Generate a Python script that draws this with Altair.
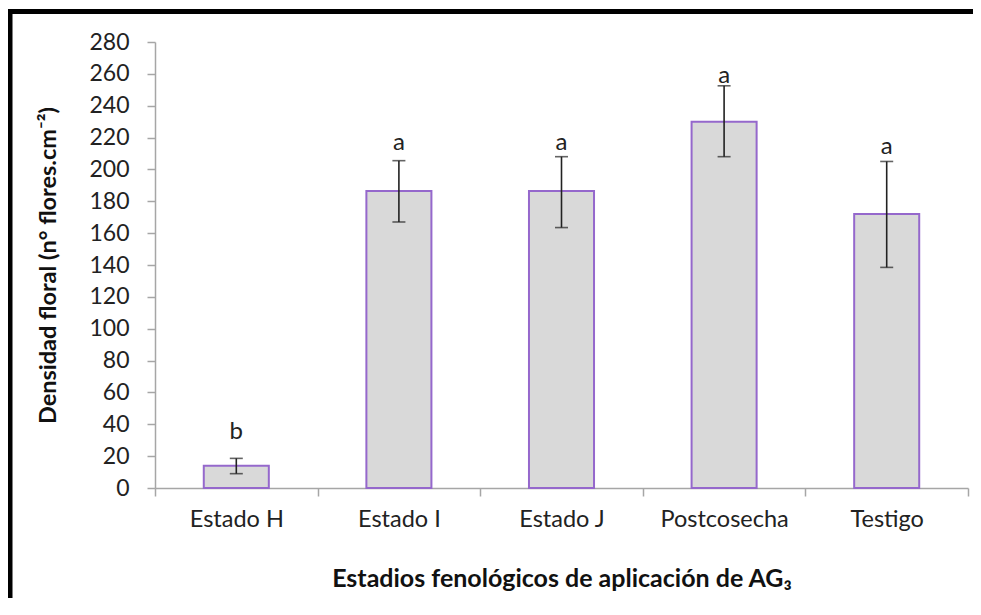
import altair as alt
import pandas as pd

categories = ["Estado H", "Estado I", "Estado J", "Postcosecha", "Testigo"]
means = [14, 186.5, 186.5, 230, 172]
err_low = [9, 167, 163.5, 208, 138.5]
err_high = [18.6, 205.5, 208, 252.5, 205]
letters = ["b", "a", "a", "a", "a"]
letter_pos = [31, 212, 212, 254, 210]
y_ticks = list(range(0, 281, 20))

df = pd.DataFrame({
    "cat": categories,
    "mean": means,
    "lo": err_low,
    "hi": err_high,
    "letter": letters,
    "lpos": letter_pos,
})

FONT = "Lato"
W, H = 813, 446
PAD_R = 5

x_axis = alt.Axis(
    title="Estadios fenológicos de aplicación de AG₃",
    labelAngle=0,
    tickBand="extent",
    tickSize=8,
    labelPadding=11,
    titlePadding=36,
    domainColor="#a6a6a6",
    tickColor="#a6a6a6",
    domainWidth=1.5,
    tickWidth=1.5,
    labelFont=FONT,
    labelFontSize=23.5,
    labelColor="#222222",
    titleFont=FONT,
    titleFontSize=25,
    titleFontWeight="bold",
    titleColor="#111111",
)
x_scale = alt.Scale(paddingInner=0, paddingOuter=0)

y_scale = alt.Scale(domain=[0, 280], nice=False)
y_axis = alt.Axis(
    title="Densidad floral (n° flores.cm⁻²)",
    values=y_ticks,
    labelOverlap=False,
    grid=False,
    tickSize=8,
    labelPadding=18,
    titlePadding=28,
    domainColor="#a6a6a6",
    tickColor="#a6a6a6",
    domainWidth=1.5,
    tickWidth=1.5,
    labelFont=FONT,
    labelFontSize=23,
    labelColor="#222222",
    titleFont=FONT,
    titleFontSize=23.5,
    titleFontWeight="bold",
    titleColor="#111111",
)


def X():
    return alt.X("cat:N", sort=categories, scale=x_scale, axis=x_axis)


def Y(field):
    return alt.Y(field, type="quantitative", scale=y_scale, axis=y_axis)


base = alt.Chart(df)

bars = base.mark_bar(
    width=alt.RelativeBandSize(0.4),
    fill="#d9d9d9",
    stroke="#9568cc",
    strokeWidth=2,
).encode(x=X(), y=Y("mean"))

err = base.mark_rule(color="#222222", strokeWidth=1.6).encode(
    x=X(), y=Y("lo"), y2="hi:Q"
)
cap_hi = base.mark_tick(color="#222222", size=13, thickness=1.6).encode(
    x=X(), y=Y("hi")
)
cap_lo = base.mark_tick(color="#222222", size=13, thickness=1.6).encode(
    x=X(), y=Y("lo")
)
txt = base.mark_text(
    font=FONT, fontSize=24, color="#222222", baseline="alphabetic"
).encode(x=X(), y=Y("lpos"), text="letter:N")

one = alt.Data(values=[{"k": 1}])
top_border = alt.Chart(one).mark_rule(color="black", strokeWidth=5).encode(
    x=alt.value(-147), x2=alt.value(W + PAD_R), y=alt.value(-30.5)
)
left_border = alt.Chart(one).mark_rule(color="black", strokeWidth=5).encode(
    x=alt.value(-145), y=alt.value(-33), y2=alt.value(H + 110)
)

chart = (
    alt.layer(bars, err, cap_hi, cap_lo, txt, top_border, left_border)
    .properties(
        width=W,
        height=H,
        background="white",
        autosize=alt.AutoSizeParams(type="none"),
        padding={"left": 147, "top": 34, "right": PAD_R, "bottom": 110},
    )
    .configure_view(stroke=None, strokeWidth=0)
)

chart.save("out.html", embed_options={"renderer": "svg", "actions": False})
